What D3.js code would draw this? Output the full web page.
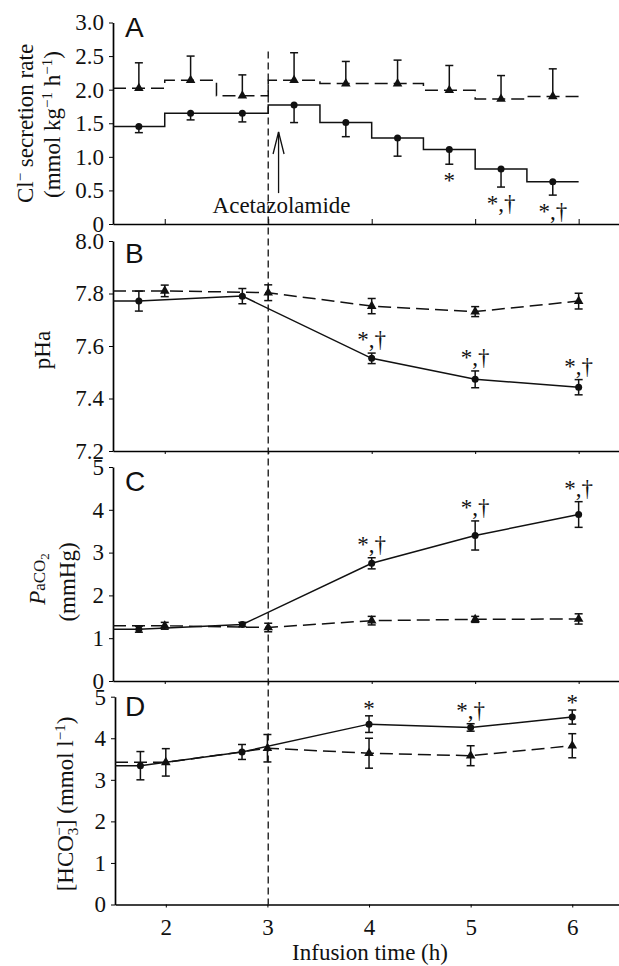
<!DOCTYPE html>
<html>
<head>
<script src="https://cdn.jsdelivr.net/npm/d3@7"></script>
<style>
  body { margin: 0; background: #fff; }
</style>
</head>
<body>
<div id="chart"></div>
<script>
var width = 619, height = 966;
var serif = "'Liberation Serif', 'Times New Roman', Times, serif";
var sans = "'Liberation Sans', Arial, Helvetica, sans-serif";

// A: Cl- secretion rate, half-hour collection periods (midpoints, h)
var clTimes = [1.75, 2.25, 2.75, 3.25, 3.75, 4.25, 4.75, 5.25, 5.75];
var clAcet = [1.45, 1.65, 1.65, 1.77, 1.51, 1.28, 1.11, 0.82, 0.63];
var clAcetSE = [0.09, 0.10, 0.13, 0.26, 0.21, 0.27, 0.22, 0.27, 0.20];
var clCtrl = [2.02, 2.14, 1.91, 2.14, 2.09, 2.09, 1.99, 1.86, 1.90];
var clCtrlSE = [0.38, 0.36, 0.31, 0.41, 0.33, 0.35, 0.37, 0.35, 0.41];

// B-D: blood samples
var acetTimes = [1.75, 2.75, 4, 5, 6];
var ctrlTimes = [2, 3, 4, 5, 6];

var phAcet = [7.771, 7.790, 7.553, 7.473, 7.443];
var phAcetSE = [0.038, 0.029, 0.020, 0.032, 0.029];
var phCtrl = [7.810, 7.803, 7.752, 7.731, 7.771];
var phCtrlSE = [0.022, 0.030, 0.029, 0.019, 0.030];

var pco2Acet = [1.21, 1.32, 2.75, 3.40, 3.89];
var pco2AcetSE = [0.07, 0.05, 0.13, 0.34, 0.30];
var pco2Ctrl = [1.29, 1.25, 1.41, 1.44, 1.45];
var pco2CtrlSE = [0.08, 0.10, 0.10, 0.07, 0.12];

var hco3Acet = [3.34, 3.67, 4.34, 4.26, 4.51];
var hco3AcetSE = [0.34, 0.18, 0.20, 0.09, 0.17];
var hco3Ctrl = [3.42, 3.76, 3.64, 3.58, 3.82];
var hco3CtrlSE = [0.33, 0.33, 0.36, 0.24, 0.29];

// significance marks: * vs. before infusion, † vs. control
var sigA = [[4.75, "*"], [5.25, "*,†"], [5.75, "*,†"]];
var sigB = [[4, "*,†"], [5, "*,†"], [6, "*,†"]];
var sigC = [[4, "*,†"], [5, "*,†"], [6, "*,†"]];
var sigD = [[4, "*"], [5, "*,†"], [6, "*"]];

var xTicks = [2, 3, 4, 5, 6];
var ticksA = [0, 0.5, 1, 1.5, 2, 2.5, 3];
var ticksB = [7.2, 7.4, 7.6, 7.8, 8.0];
var ticksCD = [0, 1, 2, 3, 4, 5];
var drugTime = 3;   // acetazolamide added

var svg = d3.select("#chart").append("svg")
    .attr("width", width)
    .attr("height", height)
    .style("font-family", serif);

var xUpper = d3.scaleLinear().domain([1.5, 6.39]).range([113, 619]);
var xLower = d3.scaleLinear().domain([1.5, 6.46]).range([115, 619]);

function zip(ts, vs, es) {
  return ts.map(function(t, i) { return {t: t, v: vs[i], e: es[i]}; });
}

var panels = [
  {letter: "A", x: xUpper, y: d3.scaleLinear().domain([0, 3]).range([224, 22.5]),
   yTicks: ticksA, fmt: function(d) { return d === 0 ? "0" : d.toFixed(1); },
   acet: zip(clTimes, clAcet, clAcetSE), ctrl: zip(clTimes, clCtrl, clCtrlSE),
   step: true, sig: sigA, letterY: 37},
  {letter: "B", x: xUpper, y: d3.scaleLinear().domain([7.2, 8.0]).range([451, 241]),
   yTicks: ticksB, fmt: d3.format(".1f"),
   acet: zip(acetTimes, phAcet, phAcetSE), ctrl: zip(ctrlTimes, phCtrl, phCtrlSE),
   step: false, sig: sigB, letterY: 263},
  {letter: "C", x: xUpper, y: d3.scaleLinear().domain([0, 5]).range([681, 467]),
   yTicks: ticksCD, fmt: d3.format("d"),
   acet: zip(acetTimes, pco2Acet, pco2AcetSE), ctrl: zip(ctrlTimes, pco2Ctrl, pco2CtrlSE),
   step: false, sig: sigC, letterY: 491},
  {letter: "D", x: xLower, y: d3.scaleLinear().domain([0, 5]).range([904.5, 696.7]),
   yTicks: ticksCD, fmt: d3.format("d"),
   acet: zip(acetTimes, hco3Acet, hco3AcetSE), ctrl: zip(ctrlTimes, hco3Ctrl, hco3CtrlSE),
   step: false, sig: sigD, letterY: 716, bottom: true}
];

var tri = d3.symbol().type(d3.symbolTriangle).size(40);

panels.forEach(function(p) {
  var g = svg.append("g");
  var x = p.x, y = p.y;
  var y0 = y.range()[0];

  // axes
  var ya = g.append("g")
      .attr("transform", "translate(" + x.range()[0] + ",0)")
      .call(d3.axisLeft(y).tickValues(p.yTicks).tickFormat(p.fmt)
        .tickSizeInner(4).tickSizeOuter(0).tickPadding(5))
      .attr("font-family", serif).attr("font-size", 23);
  ya.select(".domain").attr("stroke-width", 1.7);
  ya.selectAll("text").attr("fill", "#111");

  var xa = g.append("g")
      .attr("transform", "translate(0," + y0 + ")")
      .call(d3.axisBottom(x).tickValues(xTicks)
        .tickFormat(p.bottom ? d3.format("d") : "")
        .tickSizeInner(p.step ? -5 : 3).tickSizeOuter(0).tickPadding(11))
      .attr("font-family", serif).attr("font-size", 23);
  xa.select(".domain").attr("stroke-width", 1.7);
  xa.selectAll("text").attr("fill", "#111");

  var line = d3.line().x(function(d) { return x(d[0]); }).y(function(d) { return y(d[1]); });

  function pts(series) {
    if (p.step) {
      var out = [];
      series.forEach(function(d) { out.push([d.t - 0.25, d.v], [d.t + 0.25, d.v]); });
      return out;
    }
    return [[1.5, series[0].v]].concat(series.map(function(d) { return [d.t, d.v]; }));
  }

  g.append("path").datum(pts(p.ctrl)).attr("d", line)
      .attr("fill", "none").attr("stroke", "#111").attr("stroke-width", 1.5)
      .attr("stroke-dasharray", "13,6");
  g.append("path").datum(pts(p.acet)).attr("d", line)
      .attr("fill", "none").attr("stroke", "#111").attr("stroke-width", 1.5);

  // error bars (panel A: one-sided)
  function bars(series, dir) {
    series.forEach(function(d) {
      var lo = p.step ? (dir < 0 ? d.v - d.e : d.v) : d.v - d.e;
      var hi = p.step ? (dir < 0 ? d.v : d.v + d.e) : d.v + d.e;
      var cx = x(d.t);
      g.append("line").attr("x1", cx).attr("x2", cx).attr("y1", y(lo)).attr("y2", y(hi))
          .attr("stroke", "#111").attr("stroke-width", 1.5);
      var caps = p.step ? [dir < 0 ? lo : hi] : [lo, hi];
      caps.forEach(function(c) {
        g.append("line").attr("x1", cx - 4).attr("x2", cx + 4).attr("y1", y(c)).attr("y2", y(c))
            .attr("stroke", "#111").attr("stroke-width", 1.5);
      });
    });
  }
  bars(p.acet, -1);
  bars(p.ctrl, 1);

  g.selectAll(".tri").data(p.ctrl).enter().append("path")
      .attr("transform", function(d) { return "translate(" + x(d.t) + "," + y(d.v) + ")"; })
      .attr("d", tri).attr("fill", "#111");
  g.selectAll(".dot").data(p.acet).enter().append("circle")
      .attr("cx", function(d) { return x(d.t); })
      .attr("cy", function(d) { return y(d.v); })
      .attr("r", 3.5).attr("fill", "#111");

  // significance
  p.sig.forEach(function(s) {
    var d = p.acet.filter(function(a) { return a.t === s[0]; })[0];
    var ty = p.step ? y(d.v - d.e) + 24 : y(d.v + d.e) - (s[1].length > 1 ? 6 : 0);
    g.append("text").attr("x", x(d.t)).attr("y", ty)
        .attr("text-anchor", "middle").attr("fill", "#111")
        .style("font-family", serif).style("font-size", "23px").text(s[1]);
  });

  g.append("text").attr("x", 125).attr("y", p.letterY).attr("fill", "#111")
      .style("font-family", sans).style("font-size", "28px").text(p.letter);
});

// acetazolamide line and arrow
var yA = panels[0].y;
var xd = xUpper(drugTime);
svg.append("line").attr("x1", xd).attr("x2", xd)
    .attr("y1", yA(2.57)).attr("y2", panels[3].y(0))
    .attr("stroke", "#111").attr("stroke-width", 1.3).attr("stroke-dasharray", "7,4");

var ax = xUpper(3.1);
svg.append("line").attr("x1", ax).attr("x2", ax).attr("y1", yA(1.37)).attr("y2", yA(0.46))
    .attr("stroke", "#111").attr("stroke-width", 1.3);
svg.append("path")
    .attr("d", "M" + (ax - 5.5) + "," + (yA(1.37) + 22) + "L" + ax + "," + yA(1.37) + "L" + (ax + 5.5) + "," + (yA(1.37) + 22))
    .attr("fill", "none").attr("stroke", "#111").attr("stroke-width", 1.3);
svg.append("text").attr("x", ax + 3).attr("y", yA(0.165)).attr("text-anchor", "middle")
    .attr("fill", "#111").style("font-family", serif).style("font-size", "23px")
    .text("Acetazolamide");

// y-axis titles
function ylab(xp, yp) {
  return svg.append("text").attr("text-anchor", "middle").attr("fill", "#111")
      .attr("transform", "translate(" + xp + "," + yp + ") rotate(-90)")
      .style("font-family", serif).style("font-size", "23px");
}
var t1 = ylab(33, 123.5);
t1.append("tspan").text("Cl");
t1.append("tspan").attr("dy", -8).style("font-size", "15px").text("\u2212");
t1.append("tspan").attr("dy", 8).text(" secretion rate");
var t2 = ylab(60, 124.5);
t2.append("tspan").text("(mmol kg");
t2.append("tspan").attr("dy", -8).style("font-size", "15px").text("\u22121");
t2.append("tspan").attr("dy", 8).text(" h");
t2.append("tspan").attr("dy", -8).style("font-size", "15px").text("\u22121");
t2.append("tspan").attr("dy", 8).text(")");

ylab(50, 350).text("pHa");

var t3 = ylab(45, 579);
t3.append("tspan").style("font-style", "italic").text("P");
t3.append("tspan").style("font-size", "17px").text("aCO");
t3.append("tspan").attr("dy", 4).style("font-size", "13px").text("2");
ylab(75, 582).text("(mmHg)");

var t4 = ylab(73, 804);
t4.append("tspan").text("[HCO");
t4.append("tspan").attr("dy", 5).style("font-size", "15px").text("3");
t4.append("tspan").attr("dx", -8).attr("dy", -14).style("font-size", "15px").text("\u2212");
t4.append("tspan").attr("dy", 9).text("] (mmol l");
t4.append("tspan").attr("dy", -8).style("font-size", "15px").text("\u22121");
t4.append("tspan").attr("dy", 8).text(")");

svg.append("text").attr("x", 370).attr("y", 960).attr("text-anchor", "middle")
    .attr("fill", "#111").style("font-family", serif).style("font-size", "23px")
    .text("Infusion time (h)");
</script>
</body>
</html>
